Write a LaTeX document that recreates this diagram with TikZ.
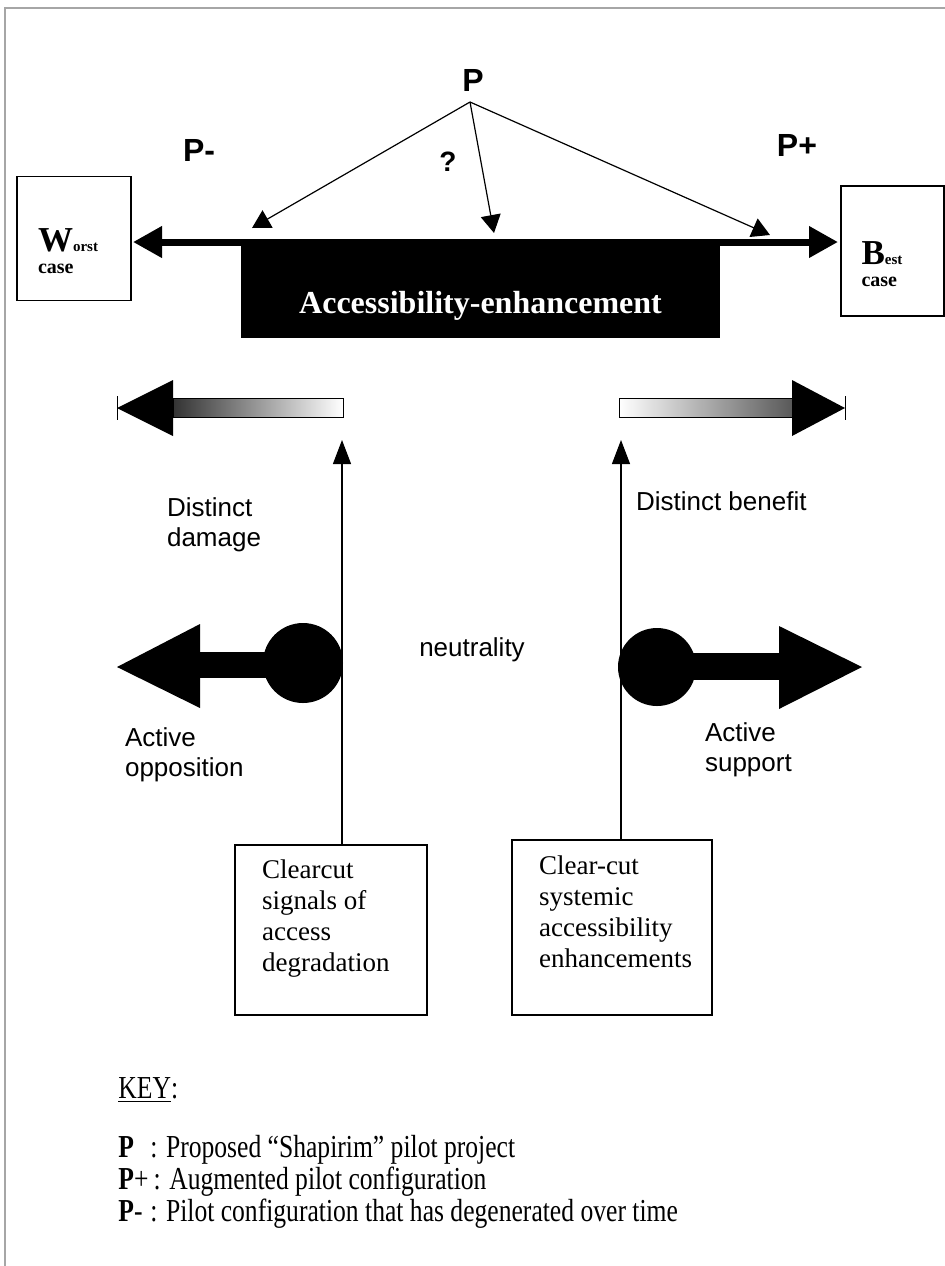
\documentclass[tikz,border=0pt]{standalone}
\usepackage{fontspec}
\setmainfont{Liberation Serif}
\setsansfont{Liberation Sans}
\newfontfamily\keyfont[FakeStretch=0.8]{Liberation Serif}
\usetikzlibrary{positioning, arrows.meta}

\begin{document}
\begin{tikzpicture}[x=0.5pt, y=-0.5pt,
	plabel/.style={font=\sffamily\bfseries\fontsize{16}{18}\selectfont},
	link/.style={-{Triangle[length=9pt,width=10pt]}, line width=0.6pt},
	uplink/.style={-{Triangle[length=12pt,width=9pt]}, line width=0.6pt},
	casebox/.style={draw, line width=0.8pt, minimum width=#1, minimum height=62pt, inner sep=0pt},
	signalbox/.style={draw, line width=0.8pt, minimum height=85pt, inner sep=0pt},
	signaltext/.style={font=\fontsize{13.5}{15.5}\selectfont, align=left, anchor=north west},
	note/.style={font=\sffamily\fontsize{13}{15}\selectfont, align=left, anchor=west},
	keytext/.style={font=\keyfont\fontsize{16}{16}\selectfont, anchor=west, inner sep=0pt}]
	
	\useasboundingbox (0,0) rectangle (945,1266);
	\draw[gray!70, line width=0.8pt] (5,1266) -- (5,8) -- (945,8);
	
	%Blocks
	\node (Worst) at (74,238.5) [casebox=57pt] {};
	\node (Best) at (892.5,251) [casebox=51.5pt, minimum height=65pt] {};
	\node (WorstText) at (68,251) [align=left, font=\bfseries, inner sep=0pt]
		{{\fontsize{17.5}{17}\selectfont W}{\fontsize{7.5}{8}\selectfont orst}\\[-1pt]{\fontsize{10}{12}\selectfont case}};
	\node (BestText) at (882,264) [align=left, font=\bfseries, inner sep=0pt]
		{{\fontsize{17.5}{17}\selectfont B}{\fontsize{7.5}{8}\selectfont est}\\[-1pt]{\fontsize{10}{12}\selectfont case}};
	\node (Access) at (480.5,290) [fill=black, minimum width=239.5pt, minimum height=48pt, inner sep=0pt] {};
	\node (AccessText) at (480.5,306) [text=white, font=\bfseries\fontsize{16}{18}\selectfont] {Accessibility-enhancement};
	
	\node (P) at (473,80) [plabel] {P};
	\node (Pminus) at (199,150) [plabel] {P-};
	\node (Pplus) at (797,145) [plabel] {P+};
	\node (Q) at (448,162) [font=\sffamily\bfseries\fontsize{14}{16}\selectfont] {?};
	
	\node (Degrade) at (331,930) [signalbox, minimum width=96pt] {};
	\node (Enhance) at (612,927.5) [signalbox, minimum width=100pt, minimum height=87.5pt] {};
	\node at (255,853) [signaltext] {Clearcut\\signals of\\access\\degradation};
	\node at (532,849) [signaltext] {Clear-cut\\systemic\\accessibility\\enhancements};
	
	%Links
	\coordinate (Pfoot) at (470,102);
	\coordinate (WorstEnd) at (133,242);
	\coordinate (BestEnd) at (838,242);
	\coordinate (DamageTip) at (342,440);
	\coordinate (BenefitTip) at (621,440);
	\draw[link] (Pfoot) -- (252,228);
	\draw[link] (Pfoot) -- (494,233);
	\draw[link] (Pfoot) -- (770,235);
	\draw[line width=3.5pt, {Triangle[length=14.5pt,width=15pt]}-{Triangle[length=14.5pt,width=15pt]}] (WorstEnd) -- (BestEnd);
	
	\draw[uplink] (DamageTip |- Degrade.north) -- (DamageTip);
	\draw[uplink] (BenefitTip |- Enhance.north) -- (BenefitTip);
	
	%Scales
	\shade[left color=black!80, right color=white, draw=black, line width=0.5pt] (173,398) rectangle (343,417);
	\fill (117,408) -- (173,380) -- (173,436) -- cycle;
	\draw[line width=0.5pt] (117,396) -- (117,420);
	\shade[left color=white, right color=black!65, draw=black, line width=0.5pt] (619,398) rectangle (792,417);
	\fill (845,408) -- (792,380) -- (792,436) -- cycle;
	\draw[line width=0.5pt] (845,396) -- (845,420);
	
	\fill (117,667) -- (200,624) -- (200,708) -- cycle;
	\fill (198,652) rectangle (290,678);
	\fill (303,663) circle (40);
	\fill (862,667) -- (779,626) -- (779,709) -- cycle;
	\fill (670,653) rectangle (781,680);
	\fill (657,667) circle (39);
	
	%Variables
	\node at (160,525) [note] {Distinct\\damage};
	\node at (629,501) [note] {Distinct benefit};
	\node at (472,650) [font=\sffamily\fontsize{13}{15}\selectfont] {neutrality};
	\node at (118,755) [note] {Active\\opposition};
	\node at (698,750) [note] {Active\\support};
	
	%Key
	\node (Key) at (118,1090) [keytext] {\underline{KEY}:};
	\node (K1) at (118,1150) [keytext] {\makebox[16pt][l]{\textbf{P}}: Proposed “Shapirim” pilot project};
	\node (K2) at (118,1182) [keytext] {\makebox[15pt][l]{\textbf{P}+}\,: Augmented pilot configuration};
	\node (K3) at (118,1214) [keytext] {\makebox[16pt][l]{\textbf{P}-}: Pilot configuration that has degenerated over time};
	
\end{tikzpicture}
\end{document}
